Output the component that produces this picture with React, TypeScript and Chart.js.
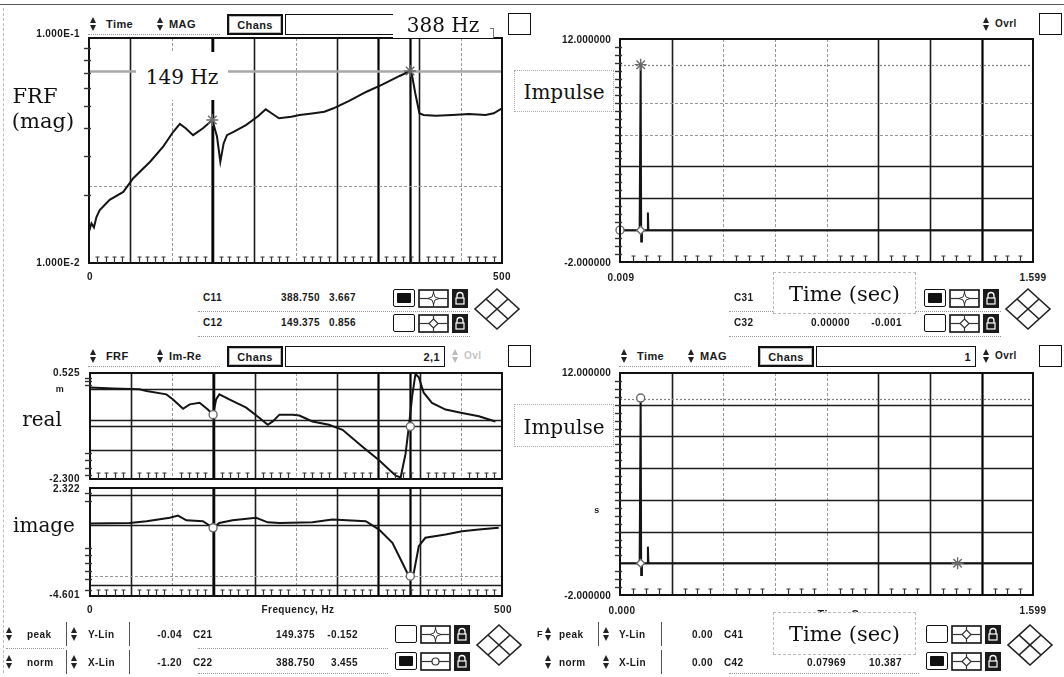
import React, { useEffect, useRef } from "react";
import { Chart, registerables } from "chart.js";
Chart.register(...registerables);

// ---------- data ----------
const frfFreq = [0, 3, 6, 9, 13, 25, 41.5, 53.6, 74, 90, 102, 110, 117, 126, 138, 149.375, 155, 159, 163, 167, 175, 190, 205, 214, 221, 230, 245, 255, 270, 285, 296, 315, 336, 355, 376, 388.75, 391, 395, 400, 405, 420, 440, 460, 480, 490, 500];
const frfMag = [0.0138, 0.015, 0.0144, 0.016, 0.0172, 0.0191, 0.0207, 0.0238, 0.0282, 0.033, 0.0383, 0.0415, 0.0397, 0.037, 0.0397, 0.0432, 0.0364, 0.0282, 0.034, 0.037, 0.0383, 0.041, 0.045, 0.0482, 0.0463, 0.044, 0.0447, 0.0455, 0.0462, 0.047, 0.0487, 0.0525, 0.0577, 0.062, 0.0678, 0.0713, 0.0685, 0.0568, 0.0463, 0.0455, 0.0451, 0.0455, 0.0459, 0.0455, 0.0463, 0.0487];

const realFreq = [0, 28, 60, 68.6, 92.7, 100.8, 112.9, 121, 133, 143, 149.375, 153, 157, 169, 189.6, 205.7, 215.7, 221.8, 229.9, 246, 254, 270, 290, 306.5, 330.7, 350.8, 371, 377, 383, 387, 391, 395, 399, 405, 415, 431.5, 451.6, 472, 492];
const realVal = [0.138, 0.11, 0.092, 0.046, -0.044, -0.18, -0.43, -0.31, -0.27, -0.45, -0.585, -0.18, -0.044, -0.18, -0.4, -0.675, -0.856, -0.766, -0.585, -0.585, -0.61, -0.766, -0.856, -0.99, -1.44, -1.8, -2.21, -2.26, -1.62, -0.9, -0.09, 0.5, 0.41, 0.0, -0.27, -0.45, -0.54, -0.63, -0.766];

const imgFreq = [0, 48, 68.6, 96.8, 106.8, 117, 137, 149.375, 157, 173, 201.6, 215.7, 229.9, 270, 294, 334.7, 350.8, 367, 379, 387, 393, 399, 407, 431.5, 451.6, 472, 496];
const imgVal = [0.04, 0.085, 0.19, 0.41, 0.55, 0.25, 0.19, -0.23, 0.085, 0.25, 0.41, 0.12, 0.085, 0.12, 0.3, 0.19, -0.34, -1.19, -2.47, -3.33, -3.11, -1.41, -0.87, -0.66, -0.45, -0.34, -0.23];

const impT = [0, 0.076, 0.08, 0.082, 0.085, 0.106, 0.108, 0.11, 1.599];
const impTop = [0, 0, 10.39, -0.72, 0, 0, 1.1, 0, 0];
const impBottom = [0, 0, 10.42, -0.74, 0, 0, 1.05, 0, 0];

const cursorHz = [149.375, 388.75];
const cursorMag = [0.0432, 0.0713];
const cursorReal = [-0.585, -0.9];
const cursorImg = [-0.23, -3.33];
const peakT = [0.08];
const peakV = [10.39];
const cursor2T = [1.307];

const tlYLabels = ["1.000E-1", "1.000E-2"];
const freqLabels = ["0", "500"];
const timeYLabels = ["12.000000", "-2.000000"];
const realLabels = ["0.525", "-2.300"];
const imgLabels = ["2.322", "-4.601"];

// ---------- styles ----------
const UI = '"Liberation Sans", Arial, sans-serif';
const SERIF = '"DejaVu Serif", "Liberation Serif", serif';

const STY: any = {
  s: { c: "#1c1c1c", w: 1.6, d: [] },
  k: { c: "#000", w: 2.2, d: [] },
  g: { c: "#9a9a9a", w: 1, d: [3, 2] },
  c: { c: "#808080", w: 1.2, d: [2, 2] },
  h: { c: "#a8a8a8", w: 2.4, d: [] },
};

type GL = [number, string];
const freqV: GL[] = [[50, "s"], [100, "g"], [150, "s"], [200, "s"], [250, "g"], [300, "s"], [350, "k"], [400, "s"], [450, "g"], [149.375, "k"], [388.75, "k"]];
const timeV: GL[] = [[0.2, "s"], [0.4, "g"], [0.6, "g"], [0.8, "g"], [1.0, "s"], [1.2, "s"], [1.4, "k"]];

function frame(cfg: any) {
  return {
    id: "frame",
    beforeDatasetsDraw(chart: any) {
      const { ctx, chartArea: a } = chart;
      const xs = chart.scales.x, ys = chart.scales.y;
      ctx.save();
      const ln = (x1: number, y1: number, x2: number, y2: number, st: any) => {
        ctx.strokeStyle = st.c; ctx.lineWidth = st.w; ctx.setLineDash(st.d);
        ctx.beginPath(); ctx.moveTo(x1, y1); ctx.lineTo(x2, y2); ctx.stroke();
      };
      (cfg.v || []).forEach(([v, k]: GL) => { const p = Math.round(xs.getPixelForValue(v)) + 0.5; ln(p, a.top, p, a.bottom, STY[k]); });
      (cfg.h || []).forEach(([v, k]: GL) => { const p = Math.round(ys.getPixelForValue(v)) + 0.5; ln(a.left, p, a.right, p, STY[k]); });
      ctx.restore();
    },
    afterDatasetsDraw(chart: any) {
      const { ctx, chartArea: a } = chart;
      const xs = chart.scales.x, ys = chart.scales.y;
      ctx.save();
      ctx.setLineDash([]);
      ctx.strokeStyle = "#111";
      ctx.lineWidth = 2;
      ctx.strokeRect(a.left, a.top, a.right - a.left, a.bottom - a.top);
      if (cfg.xt) {
        ctx.lineWidth = 1.2;
        ctx.strokeStyle = "#333";
        for (const v of cfg.xt) {
          const p = Math.round(xs.getPixelForValue(v)) + 0.5;
          ctx.beginPath();
          ctx.moveTo(p, a.bottom); ctx.lineTo(p, a.bottom - 6);
          ctx.moveTo(p - 2, a.bottom - 6); ctx.lineTo(p + 2, a.bottom - 6);
          ctx.stroke();
        }
      }
      if (cfg.yt) {
        ctx.lineWidth = 1.4;
        ctx.strokeStyle = "#333";
        for (const v of cfg.yt) {
          const p = Math.round(ys.getPixelForValue(v)) + 0.5;
          ctx.beginPath(); ctx.moveTo(a.left - 5, p); ctx.lineTo(a.left + 2, p); ctx.stroke();
        }
      }
      ctx.restore();
    },
  };
}

const range = (a: number, b: number, s: number, skip: number) => {
  const out: number[] = [];
  for (let v = a; v < b - 1e-9; v += s) {
    const r = v / skip;
    if (Math.abs(r - Math.round(r)) > 1e-6) out.push(+v.toFixed(4));
  }
  return out;
};

const pts = (xs: number[], ys: number[]) => xs.map((x, i) => ({ x, y: ys[i] }));

const lineDs = (data: any[]) => ({ data, showLine: true, borderColor: "#141414", borderWidth: 2, pointRadius: 0, tension: 0, order: 2 });
const markDs = (data: any[], style: string, r = 5) => ({
  data, showLine: false, pointStyle: style, pointRadius: r, borderColor: "#6a6a6a", backgroundColor: "#ffffff", borderWidth: 1.4, clip: 10, order: 1,
});

function makeConfig(datasets: any[], x: any, y: any, cfg: any) {
  return {
    type: "scatter",
    data: { datasets },
    options: {
      animation: false,
      responsive: false,
      events: [],
      layout: { padding: 10 },
      plugins: { legend: { display: false }, tooltip: { enabled: false } },
      scales: { x: { ...x, display: false }, y: { ...y, display: false } },
    },
    plugins: [frame(cfg)],
  } as any;
}

function Plot({ x, y, w, h, config }: any) {
  const ref = useRef<HTMLCanvasElement>(null);
  useEffect(() => {
    const c = new Chart(ref.current as HTMLCanvasElement, config());
    return () => c.destroy();
  }, []);
  const P = 10;
  return (
    <div style={{ position: "absolute", left: x - P, top: y - P, width: w + 2 * P, height: h + 2 * P }}>
      <canvas ref={ref} width={w + 2 * P} height={h + 2 * P} style={{ display: "block", width: w + 2 * P, height: h + 2 * P }} />
    </div>
  );
}

// ---------- small UI pieces ----------
function T({ x, y, s, a = "l", size = 10, bold = true, font = UI, color = "#1a1a1a", ls = 0.4 }: any) {
  const tx = a === "l" ? "0" : a === "c" ? "-50%" : "-100%";
  return (
    <div style={{ position: "absolute", left: x, top: y, transform: `translate(${tx},-50%)`, fontFamily: font, fontSize: size, fontWeight: bold ? 700 : 400, color, whiteSpace: "nowrap", letterSpacing: ls, lineHeight: 1 }}>{s}</div>
  );
}
function R({ x, y, w, h, st }: any) {
  return <div style={{ position: "absolute", left: x, top: y, width: w, height: h, boxSizing: "border-box", ...st }} />;
}
function Spin({ x, y, c = "#222" }: any) {
  return (
    <div style={{ position: "absolute", left: x, top: y, width: 7, height: 15 }}>
      <div style={{ width: 0, height: 0, borderLeft: "3.5px solid transparent", borderRight: "3.5px solid transparent", borderBottom: `6px solid ${c}` }} />
      <div style={{ height: 2 }} />
      <div style={{ width: 0, height: 0, borderLeft: "3.5px solid transparent", borderRight: "3.5px solid transparent", borderTop: `6px solid ${c}` }} />
    </div>
  );
}
function Check({ x, y, filled }: any) {
  return (
    <div style={{ position: "absolute", left: x, top: y, width: 22, height: 18, boxSizing: "border-box", border: "1.6px solid #111", borderRadius: 2, background: "#fff" }}>
      {filled && <div style={{ position: "absolute", left: 3, top: 3, right: 3, bottom: 3, background: "#111", borderRadius: 1 }} />}
    </div>
  );
}
function Cur({ x, y, kind }: any) {
  return (
    <svg style={{ position: "absolute", left: x, top: y }} width={31} height={19}>
      <rect x={1} y={1} width={29} height={17} fill="#fff" stroke="#111" strokeWidth={1.6} />
      <line x1={2} y1={9.5} x2={29} y2={9.5} stroke="#333" strokeWidth={1.2} />
      {kind !== "o" && <line x1={15.5} y1={2} x2={15.5} y2={17} stroke="#333" strokeWidth={1.2} />}
      {kind === "star" && <polygon points="15.5,4 17,8 21,9.5 17,11 15.5,15 14,11 10,9.5 14,8" fill="#fff" stroke="#333" strokeWidth={1} />}
      {kind === "d" && <polygon points="15.5,5 20,9.5 15.5,14 11,9.5" fill="#fff" stroke="#333" strokeWidth={1.2} />}
      {kind === "o" && <circle cx={15.5} cy={9.5} r={3.5} fill="#fff" stroke="#333" strokeWidth={1.2} />}
    </svg>
  );
}
function Lock({ x, y }: any) {
  return (
    <svg style={{ position: "absolute", left: x, top: y }} width={16} height={19}>
      <rect x={0} y={0} width={16} height={19} fill="#1a1a1a" />
      <path d="M5 9 V6.5 a3 3 0 0 1 6 0 V9" fill="none" stroke="#fff" strokeWidth={1.3} />
      <rect x={4} y={9} width={8} height={6} fill="none" stroke="#fff" strokeWidth={1.2} />
    </svg>
  );
}
function Dia({ x, y }: any) {
  return (
    <svg style={{ position: "absolute", left: x, top: y }} width={48} height={44}>
      <polygon points="24,2 46,22 24,42 2,22" fill="#fff" stroke="#222" strokeWidth={1.6} />
      <line x1={13} y1={12} x2={35} y2={32} stroke="#222" strokeWidth={1.6} />
      <line x1={35} y1={12} x2={13} y2={32} stroke="#222" strokeWidth={1.6} />
    </svg>
  );
}
function Lab({ x, y, w, h, s, size = 21, border = "none", ty }: any) {
  return (
    <div style={{ position: "absolute", left: x, top: y, width: w, height: h, background: "#fff", border, boxSizing: "border-box" }}>
      <div style={{ position: "absolute", left: "50%", top: ty ?? h / 2, transform: "translate(-50%,-50%)", fontFamily: SERIF, fontSize: size, color: "#111", whiteSpace: "nowrap", lineHeight: 1 }}>{s}</div>
    </div>
  );
}

function Header({ ox, y, t1, t2, chan, ovrl, faded, onlyRight }: any) {
  const cy = y + 10;
  return (
    <>
      {!onlyRight && (
        <>
          <Spin x={ox + 90} y={y + 3} />
          <T x={ox + 106} y={cy} s={t1} size={11} />
          <Spin x={ox + 157} y={y + 3} />
          <T x={ox + 169} y={cy} s={t2} size={11} />
          <R x={ox + 88} y={y + 20} w={132} h={1} st={{ borderTop: "1px dotted #999" }} />
          <R x={ox + 227} y={y} w={56} h={21} st={{ border: "2px solid #111", boxShadow: "inset 0 0 0 1px #bbb", background: "#fff" }} />
          <T x={ox + 255} y={cy + 0.5} s="Chans" a="c" size={11} />
          <R x={ox + 285} y={y} w={160} h={21} st={{ border: "1.6px solid #111", background: "#fff" }} />
          {chan && <T x={ox + 440} y={cy + 0.5} s={chan} a="r" size={11} />}
        </>
      )}
      {ovrl && (
        <>
          <Spin x={ox + 452} y={y + 3} c={faded ? "#bbb" : "#222"} />
          <T x={ox + 464} y={cy} s={ovrl} size={10} color={faded ? "#c4c4c4" : "#1a1a1a"} />
        </>
      )}
      <R x={ox + 508} y={y - 1} w={23} h={22} st={{ border: "1.6px solid #111", background: "#fff" }} />
    </>
  );
}

function Icons({ ox, y1, y2, f1, k1, f2, k2 }: any) {
  return (
    <>
      <Check x={ox + 393} y={y1} filled={f1} />
      <Cur x={ox + 418} y={y1} kind={k1} />
      <Lock x={ox + 452} y={y1} />
      <Check x={ox + 393} y={y2} filled={f2} />
      <Cur x={ox + 418} y={y2} kind={k2} />
      <Lock x={ox + 452} y={y2} />
    </>
  );
}

// ---------- charts ----------
const TL = { x: 89, y: 38, w: 413, h: 225 };
const TR = { x: 620, y: 39, w: 413, h: 223 };
const BLr = { x: 90, y: 373, w: 412, h: 106 };
const BLi = { x: 90, y: 488, w: 412, h: 108 };
const BR = { x: 620, y: 373, w: 413, h: 222 };

const cfgTL = () =>
  makeConfig(
    [lineDs(pts(frfFreq, frfMag)), markDs(pts(cursorHz, cursorMag), "star", 6)],
    { type: "linear", min: 0, max: 500 },
    { type: "logarithmic", min: 0.01, max: 0.1 },
    { v: freqV, h: [[0.0713, "h"], [0.022, "g"]], xt: range(0, 500, 10, 50), yt: [0.02, 0.03, 0.04, 0.05, 0.06, 0.07, 0.08, 0.09] }
  );
const cfgTR = () =>
  makeConfig(
    [lineDs(pts(impT, impTop)), markDs(pts(peakT, peakV), "star", 6), markDs([{ x: 0, y: 0 }], "circle", 4), markDs([{ x: peakT[0], y: 0 }], "rectRot", 4)],
    { type: "linear", min: 0, max: 1.599 },
    { type: "linear", min: -2, max: 12 },
    { v: timeV, h: [[0, "s"], [2, "s"], [4, "s"], [6, "g"], [8, "g"], [10.39, "c"]], xt: range(0, 1.599, 0.05, 0.2), yt: range(-1.5, 12, 0.5, 100) }
  );
const cfgReal = () =>
  makeConfig(
    [lineDs(pts(realFreq, realVal)), markDs(pts(cursorHz, cursorReal), "circle", 4)],
    { type: "linear", min: 0, max: 500 },
    { type: "linear", min: -2.3, max: 0.525 },
    { v: freqV, h: [[0.111, "s"], [-0.74, "s"], [-0.883, "s"], [-1.533, "s"]], xt: range(0, 500, 10, 50), yt: [0.4, 0.3, 0.2, -1.6, -1.8, -2.0, -2.2] }
  );
const cfgImg = () =>
  makeConfig(
    [lineDs(pts(imgFreq, imgVal)), markDs(pts(cursorHz, cursorImg), "circle", 4)],
    { type: "linear", min: 0, max: 500 },
    { type: "linear", min: -4.601, max: 2.322 },
    { v: freqV, h: [[1.894, "s"], [-0.023, "s"], [-3.33, "g"], [-3.92, "s"]], xt: range(0, 500, 10, 50), yt: [2, 1.5, -1.5, -2, -2.5, -3, -3.5, -4.2] }
  );
const cfgBR = () =>
  makeConfig(
    [lineDs(pts(impT, impBottom)), markDs(pts(peakT, [impBottom[2]]), "circle", 4), markDs([{ x: cursor2T[0], y: 0 }], "star", 6), markDs([{ x: peakT[0], y: 0 }], "rectRot", 4)],
    { type: "linear", min: 0, max: 1.599 },
    { type: "linear", min: -2, max: 12 },
    { v: timeV, h: [[0, "s"], [2, "s"], [4, "s"], [6, "s"], [8, "s"], [10, "s"], [10.39, "c"]], xt: range(0, 1.599, 0.05, 0.2), yt: range(-1.5, 12, 0.5, 100) }
  );

export default function App() {
  const O = 531;
  return (
    <div style={{ position: "fixed", left: 0, top: 0, width: 1064, height: 677, background: "#fff", overflow: "hidden", fontFamily: UI }}>
      <R x={0} y={4} w={1064} h={1} st={{ borderTop: "1.5px solid #555" }} />
      <R x={3} y={8} w={1} h={665} st={{ borderLeft: "1px dashed #bbb" }} />

      <Header ox={0} y={14} t1="Time" t2="MAG" />
      <Header ox={O} y={14} ovrl="Ovrl" onlyRight />
      <Header ox={0} y={346} t1="FRF" t2="Im-Re" chan="2,1" ovrl="Ovl" faded />
      <Header ox={O} y={346} t1="Time" t2="MAG" chan="1" ovrl="Ovrl" />

      <Plot {...TL} config={cfgTL} />
      <Plot {...TR} config={cfgTR} />
      <Plot {...BLr} config={cfgReal} />
      <Plot {...BLi} config={cfgImg} />
      <Plot {...BR} config={cfgBR} />

      <T x={80} y={34} s={tlYLabels[0]} a="r" />
      <T x={80} y={263} s={tlYLabels[1]} a="r" />
      <T x={90} y={277} s={freqLabels[0]} a="c" />
      <T x={502} y={277} s={freqLabels[1]} a="c" />

      <T x={611} y={40} s={timeYLabels[0]} a="r" ls={0.2} />
      <T x={611} y={263} s={timeYLabels[1]} a="r" ls={0.2} />
      <T x={621} y={278} s="0.009" a="c" />
      <T x={1033} y={278} s="1.599" a="c" />

      <T x={80} y={373} s={realLabels[0]} a="r" />
      <T x={60} y={389} s="m" a="c" size={9} />
      <T x={80} y={479} s={realLabels[1]} a="r" />
      <T x={80} y={489} s={imgLabels[0]} a="r" />
      <T x={80} y={595} s={imgLabels[1]} a="r" />
      <T x={90} y={610} s={freqLabels[0]} a="c" />
      <T x={298} y={610} s="Frequency, Hz" a="c" size={10} />
      <T x={503} y={610} s={freqLabels[1]} a="c" />

      <T x={611} y={373} s={timeYLabels[0]} a="r" ls={0.2} />
      <T x={597} y={510} s="s" a="c" size={9} />
      <T x={611} y={596} s={timeYLabels[1]} a="r" ls={0.2} />
      <T x={622} y={611} s="0.000" a="c" />
      <T x={1033} y={611} s="1.599" a="c" />
      <T x={845} y={614} s="Time, Sec" a="c" size={11} />

      <T x={203} y={298} s="C11" />
      <T x={320} y={298} s="388.750" a="r" />
      <T x={356} y={298} s="3.667" a="r" />
      <T x={203} y={323} s="C12" />
      <T x={320} y={323} s="149.375" a="r" />
      <T x={356} y={323} s="0.856" a="r" />
      <R x={198} y={311} w={272} h={1} st={{ borderTop: "1px dotted #999" }} />
      <R x={198} y={336} w={272} h={1} st={{ borderTop: "1px dotted #999" }} />
      <Icons ox={0} y1={289} y2={314} f1 k1="star" f2={false} k2="d" />
      <Dia x={473} y={287} />

      <T x={734} y={298} s="C31" />
      <T x={734} y={323} s="C32" />
      <T x={850} y={323} s="0.00000" a="r" />
      <T x={902} y={323} s="-0.001" a="r" />
      <R x={729} y={311} w={272} h={1} st={{ borderTop: "1px dotted #999" }} />
      <R x={729} y={336} w={272} h={1} st={{ borderTop: "1px dotted #999" }} />
      <Icons ox={O} y1={289} y2={314} f1 k1="star" f2={false} k2="d" />
      <Dia x={473 + O} y={287} />

      <Spin x={6} y={627} />
      <T x={27} y={635} s="peak" />
      <R x={66} y={622} w={1} h={24} st={{ borderLeft: "1.5px solid #555" }} />
      <Spin x={71} y={627} />
      <T x={88} y={635} s="Y-Lin" />
      <R x={129} y={622} w={1} h={24} st={{ borderLeft: "1.5px solid #555" }} />
      <Spin x={6} y={655} />
      <T x={27} y={663} s="norm" />
      <R x={66} y={650} w={1} h={24} st={{ borderLeft: "1.5px solid #555" }} />
      <Spin x={71} y={655} />
      <T x={88} y={663} s="X-Lin" />
      <R x={129} y={650} w={1} h={24} st={{ borderLeft: "1.5px solid #555" }} />
      <R x={6} y={648} w={58} h={1} st={{ borderTop: "1px dotted #999" }} />
      <T x={182} y={635} s="-0.04" a="r" />
      <T x={193} y={635} s="C21" />
      <T x={315} y={635} s="149.375" a="r" />
      <T x={358} y={635} s="-0.152" a="r" />
      <T x={182} y={663} s="-1.20" a="r" />
      <T x={193} y={663} s="C22" />
      <T x={315} y={663} s="388.750" a="r" />
      <T x={358} y={663} s="3.455" a="r" />
      <R x={198} y={648} w={190} h={1} st={{ borderTop: "1px dotted #999" }} />
      <R x={198} y={673} w={190} h={1} st={{ borderTop: "1px dotted #999" }} />
      <Icons ox={2} y1={625} y2={652} f1={false} k1="star" f2 k2="o" />
      <Dia x={475} y={623} />

      <T x={537} y={634} s="F" size={9} />
      <Spin x={545} y={627} />
      <T x={559} y={635} s="peak" />
      <R x={598} y={622} w={1} h={24} st={{ borderLeft: "1.5px solid #555" }} />
      <Spin x={603} y={627} />
      <T x={619} y={635} s="Y-Lin" />
      <R x={661} y={622} w={1} h={24} st={{ borderLeft: "1.5px solid #555" }} />
      <Spin x={545} y={655} />
      <T x={559} y={663} s="norm" />
      <Spin x={603} y={655} />
      <T x={619} y={663} s="X-Lin" />
      <R x={661} y={650} w={1} h={24} st={{ borderLeft: "1.5px solid #555" }} />
      <T x={713} y={635} s="0.00" a="r" />
      <T x={724} y={635} s="C41" />
      <T x={713} y={663} s="0.00" a="r" />
      <T x={724} y={663} s="C42" />
      <T x={846} y={663} s="0.07969" a="r" />
      <T x={902} y={663} s="10.387" a="r" />
      <R x={729} y={673} w={190} h={1} st={{ borderTop: "1px dotted #999" }} />
      <Icons ox={O + 2} y1={625} y2={652} f1={false} k1="d" f2 k2="d" />
      <Dia x={475 + O} y={623} />

      <Lab x={8} y={82} w={72} h={56} s="" />
      <T x={35} y={96} s="FRF" a="c" size={21} bold={false} font={SERIF} color="#111" ls={0} />
      <T x={43} y={121} s="(mag)" a="c" size={21} bold={false} font={SERIF} color="#111" ls={0} />
      <Lab x={136} y={52} w={92} h={48} s="149 Hz" size={20} ty={25} />
      <Lab x={393} y={8} w={100} h={30} s="388 Hz" size={20} ty={17} border="none" />
      <R x={490} y={28} w={4} h={10} st={{ borderTop: "1px solid #777", borderRight: "1px solid #777" }} />
      <Lab x={514} y={70} w={100} h={42} s="Impulse" size={20} border="1px dotted #aaa" />
      <Lab x={514} y={404} w={100} h={43} s="Impulse" size={20} border="1px dotted #aaa" />
      <Lab x={773} y={272} w={143} h={42} s="Time (sec)" size={21} border="1px dashed #bbb" />
      <Lab x={773} y={612} w={143} h={43} s="Time (sec)" size={21} border="1px dashed #bbb" ty={21} />
      <Lab x={14} y={404} w={56} h={30} s="real" size={20} />
      <Lab x={8} y={510} w={72} h={30} s="image" size={20} />
    </div>
  );
}
